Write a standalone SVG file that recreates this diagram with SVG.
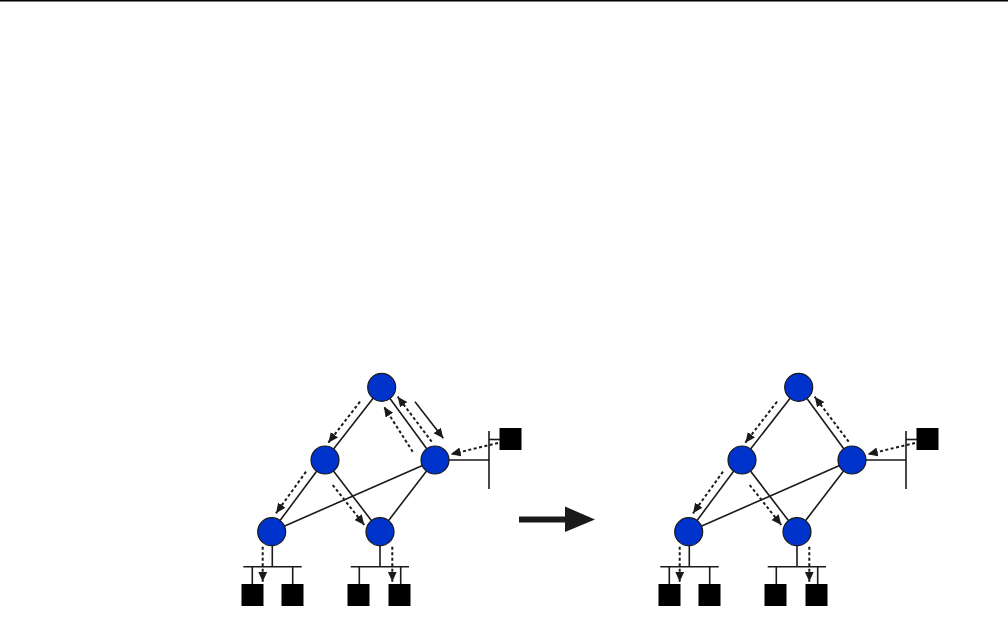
<svg xmlns="http://www.w3.org/2000/svg" width="1008" height="644" viewBox="0 0 1008 644">
<style>
.node{fill:#0033cc;stroke:#1a1a1a;stroke-width:1.2}
.host{fill:#000}
.edge{stroke:#1a1a1a;stroke-width:1.6;fill:none}
.bus{stroke:#1a1a1a;stroke-width:1.6;fill:none}
.dash{stroke:#1a1a1a;stroke-width:2;fill:none;stroke-dasharray:3 2.5;marker-end:url(#ah)}
.solid{stroke:#1a1a1a;stroke-width:1.6;fill:none;marker-end:url(#ah)}
</style>
<defs>
<marker id="ah" markerUnits="userSpaceOnUse" markerWidth="12" markerHeight="10" refX="10" refY="4.5" orient="auto">
<path d="M0,0 L10,4.5 L0,9 Z" fill="#1a1a1a"/>
</marker>
</defs>
<rect width="1008" height="644" fill="#fff"/>
<line x1="0" y1="0.8" x2="1008" y2="0.8" stroke="#000" stroke-width="1.4"/>

<g id="connectors">
<line class="edge" x1="381.7" y1="387.3" x2="325" y2="460"/>
<line class="edge" x1="381.7" y1="387.3" x2="435" y2="460"/>
<line class="edge" x1="325" y1="460" x2="271.7" y2="531.7"/>
<line class="edge" x1="325" y1="460" x2="380" y2="531.7"/>
<line class="edge" x1="435" y1="460" x2="271.7" y2="531.7"/>
<line class="edge" x1="435" y1="460" x2="380" y2="531.7"/>
<line class="bus" x1="435" y1="460" x2="489" y2="460"/>
<line class="bus" x1="489" y1="431" x2="489" y2="489"/>
<line class="bus" x1="489" y1="439.5" x2="500" y2="439.5"/>
<line class="bus" x1="272.3" y1="545" x2="272.3" y2="566.7"/>
<line class="bus" x1="243.3" y1="566.7" x2="301.7" y2="566.7"/>
<line class="bus" x1="252.3" y1="566.7" x2="252.3" y2="584"/>
<line class="bus" x1="292.7" y1="566.7" x2="292.7" y2="584"/>
<line class="bus" x1="380" y1="545" x2="380" y2="566.7"/>
<line class="bus" x1="350.7" y1="566.7" x2="409" y2="566.7"/>
<line class="bus" x1="359.3" y1="566.7" x2="359.3" y2="584"/>
<line class="bus" x1="400.7" y1="566.7" x2="400.7" y2="584"/>
<line class="dash" x1="360" y1="401.7" x2="328.3" y2="442.7"/>
<line class="dash" x1="306" y1="471.7" x2="276" y2="513.3"/>
<line class="dash" x1="332.7" y1="485" x2="364.3" y2="525"/>
<line class="dash" x1="412.7" y1="451.7" x2="384" y2="406.7"/>
<line class="dash" x1="431.7" y1="441.7" x2="397.7" y2="396.7"/>
<line class="solid" x1="415" y1="401.7" x2="443.3" y2="438.3"/>
<line class="dash" x1="498" y1="443" x2="450.7" y2="454.3"/>
<line class="dash" x1="262.7" y1="546.7" x2="262.7" y2="581.7"/>
<line class="dash" x1="392.3" y1="546.7" x2="392.3" y2="581.7"/>

<line class="edge" x1="798.7" y1="387.3" x2="742" y2="460"/>
<line class="edge" x1="798.7" y1="387.3" x2="852" y2="460"/>
<line class="edge" x1="742" y1="460" x2="688.7" y2="531.7"/>
<line class="edge" x1="742" y1="460" x2="797" y2="531.7"/>
<line class="edge" x1="852" y1="460" x2="688.7" y2="531.7"/>
<line class="edge" x1="852" y1="460" x2="797" y2="531.7"/>
<line class="bus" x1="852" y1="460" x2="906" y2="460"/>
<line class="bus" x1="906" y1="431" x2="906" y2="489"/>
<line class="bus" x1="906" y1="439.5" x2="917" y2="439.5"/>
<line class="bus" x1="689.3" y1="545" x2="689.3" y2="566.7"/>
<line class="bus" x1="660.3" y1="566.7" x2="718.7" y2="566.7"/>
<line class="bus" x1="669.3" y1="566.7" x2="669.3" y2="584"/>
<line class="bus" x1="709.7" y1="566.7" x2="709.7" y2="584"/>
<line class="bus" x1="797" y1="545" x2="797" y2="566.7"/>
<line class="bus" x1="767.7" y1="566.7" x2="826" y2="566.7"/>
<line class="bus" x1="776.3" y1="566.7" x2="776.3" y2="584"/>
<line class="bus" x1="817.7" y1="566.7" x2="817.7" y2="584"/>
<line class="dash" x1="777" y1="401.7" x2="745.3" y2="442.7"/>
<line class="dash" x1="723" y1="471.7" x2="693" y2="513.3"/>
<line class="dash" x1="749.7" y1="485" x2="781.3" y2="525"/>
<line class="dash" x1="848.7" y1="441.7" x2="814.7" y2="396.7"/>
<line class="dash" x1="915" y1="443" x2="867.7" y2="454.3"/>
<line class="dash" x1="679.7" y1="546.7" x2="679.7" y2="581.7"/>
<line class="dash" x1="809.3" y1="546.7" x2="809.3" y2="581.7"/>

<path d="M519,516.5 L565,516.5 L565,506.5 L595,519.5 L565,532 L565,522.5 L519,522.5 Z" fill="#1a1a1a"/>
</g>

<g id="L_top"><circle class="node" cx="381.7" cy="387.3" r="14"/></g>
<g id="L_midleft"><circle class="node" cx="325" cy="460" r="14"/></g>
<g id="L_right"><circle class="node" cx="435" cy="460" r="14"/></g>
<g id="L_botleft"><circle class="node" cx="271.7" cy="531.7" r="14"/></g>
<g id="L_botright"><circle class="node" cx="380" cy="531.7" r="14"/></g>
<g id="L_host_r"><rect class="host" x="499.5" y="428" width="22" height="22"/></g>
<g id="L_host_b1"><rect class="host" x="241.5" y="584" width="22" height="22"/></g>
<g id="L_host_b2"><rect class="host" x="281.5" y="584" width="22" height="22"/></g>
<g id="L_host_b3"><rect class="host" x="347.5" y="584" width="22" height="22"/></g>
<g id="L_host_b4"><rect class="host" x="388.5" y="584" width="22" height="22"/></g>

<g id="R_top"><circle class="node" cx="798.7" cy="387.3" r="14"/></g>
<g id="R_midleft"><circle class="node" cx="742" cy="460" r="14"/></g>
<g id="R_right"><circle class="node" cx="852" cy="460" r="14"/></g>
<g id="R_botleft"><circle class="node" cx="688.7" cy="531.7" r="14"/></g>
<g id="R_botright"><circle class="node" cx="797" cy="531.7" r="14"/></g>
<g id="R_host_r"><rect class="host" x="916.5" y="428" width="22" height="22"/></g>
<g id="R_host_b1"><rect class="host" x="658.5" y="584" width="22" height="22"/></g>
<g id="R_host_b2"><rect class="host" x="698.5" y="584" width="22" height="22"/></g>
<g id="R_host_b3"><rect class="host" x="764.5" y="584" width="22" height="22"/></g>
<g id="R_host_b4"><rect class="host" x="805.5" y="584" width="22" height="22"/></g>
</svg>
